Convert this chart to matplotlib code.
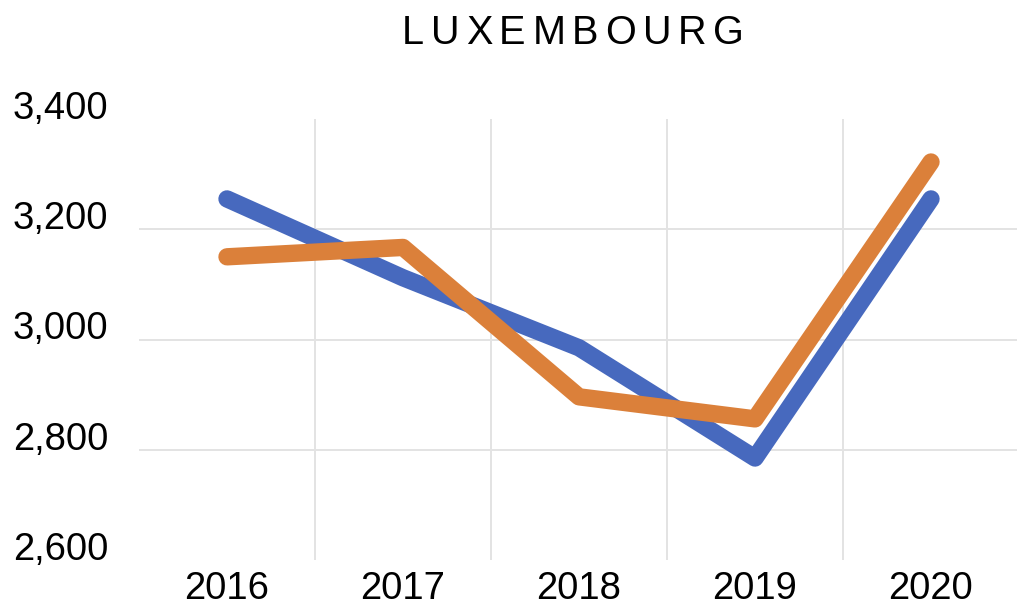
import matplotlib
matplotlib.use("Agg")
import matplotlib.pyplot as plt
from matplotlib.ticker import FuncFormatter

# Data
years = ["2016", "2017", "2018", "2019", "2020"]
series_blue = [3255, 3112, 2985, 2785, 3255]
series_orange = [3150, 3167, 2896, 2856, 3322]
y_ticks = [2600, 2800, 3000, 3200, 3400]
title = "LUXEMBOURG"

W, H, DPI = 1017, 607, 100
BLUE = "#4769BE"
ORANGE = "#DB803A"
GRID = "#E3E3E3"
FONT = "Liberation Sans"

fig = plt.figure(figsize=(W / DPI, H / DPI), dpi=DPI)
fig.patch.set_facecolor("white")
ax = fig.add_axes([139 / W, 47 / H, 880 / W, 441 / H])

xs = list(range(len(years)))
ax.plot(xs, series_blue, color=BLUE, lw=12.5, solid_capstyle="round",
        solid_joinstyle="round", zorder=3)
ax.plot(xs, series_orange, color=ORANGE, lw=12.5, solid_capstyle="round",
        solid_joinstyle="round", zorder=4)

ax.set_xlim(-0.5, len(years) - 0.5)
ax.set_ylim(y_ticks[0], y_ticks[-1])

# category boundaries as vertical grid lines
ax.set_xticks(xs)
ax.set_xticklabels(years, fontsize=27.5, family=FONT)
ax.set_xticks([i + 0.5 for i in xs[:-1]], minor=True)
ax.grid(True, which="minor", axis="x", color=GRID, lw=1.4, zorder=0)

ax.set_yticks(y_ticks)
ax.yaxis.set_major_formatter(FuncFormatter(lambda v, p: f"{int(v):,}"))
for lab in ax.get_yticklabels():
    lab.set_fontsize(27.5)
    lab.set_family(FONT)
    lab.set_verticalalignment("baseline")
ax.grid(True, which="major", axis="y", color=GRID, lw=1.4, zorder=0)
gl = ax.yaxis.get_gridlines()
gl[0].set_visible(False)
gl[-1].set_visible(False)

ax.tick_params(axis="both", which="both", length=0)
ax.tick_params(axis="y", pad=22)
ax.tick_params(axis="x", pad=8)
for s in ax.spines.values():
    s.set_visible(False)

# Tracked title, drawn letter by letter
fig.canvas.draw()
renderer = fig.canvas.get_renderer()
tfont = dict(fontsize=28.5, family=FONT, color="black")
widths = []
for ch in title:
    t = fig.text(0, 0, ch, **tfont)
    widths.append(t.get_window_extent(renderer).width)
    t.remove()
total_w = 342.0
track = (total_w - sum(widths)) / (len(title) - 1)
x0 = 573 - total_w / 2
baseline = H - 44
for ch, w in zip(title, widths):
    fig.text(x0 / W, baseline / H, ch, ha="left", va="baseline", **tfont)
    x0 += w + track

fig.savefig("out.png", dpi=DPI)
